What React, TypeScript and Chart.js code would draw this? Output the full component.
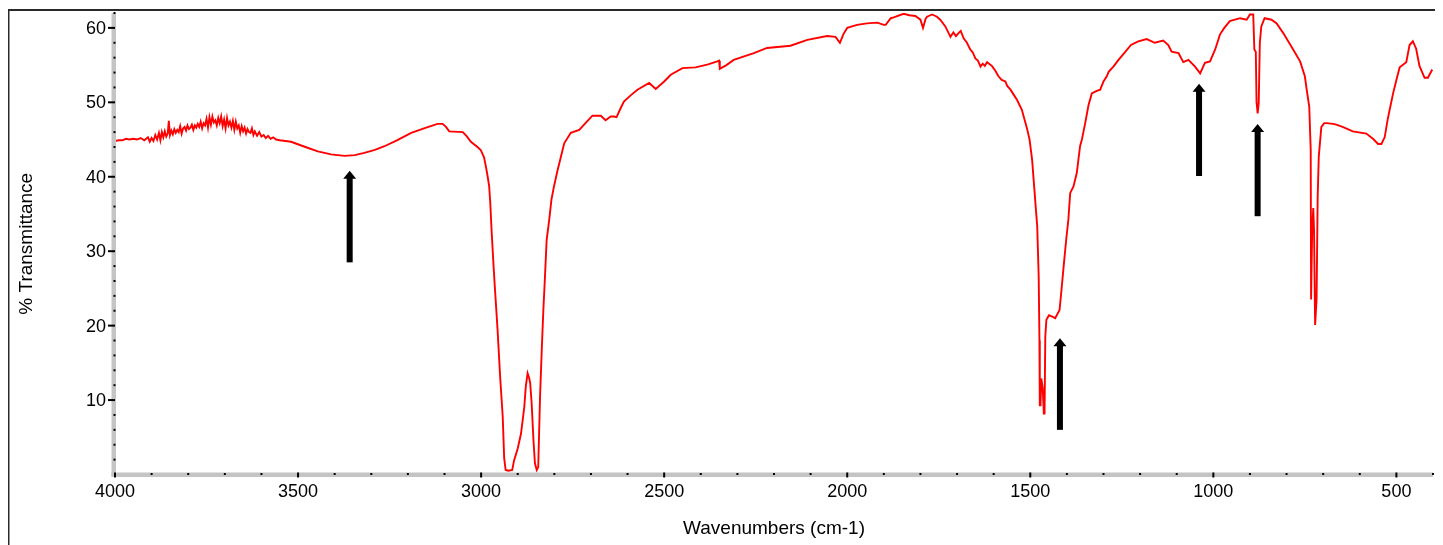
import React, { useEffect, useRef } from 'react';
import { Chart, registerables } from 'chart.js';

Chart.register(...registerables);

// ---- Data ----
const wavenumbers: number[] = [
  4000, 3990, 3980, 3970, 3960, 3950, 3940, 3930, 3920, 3910, 3905,
  3900, 3895, 3890, 3885, 3880, 3876, 3872, 3868, 3864, 3860, 3856, 3853, 3850, 3846, 3842, 3838,
  3834, 3830, 3826, 3822, 3818, 3814, 3810, 3806, 3802, 3798, 3794, 3790, 3786, 3782, 3778, 3774,
  3770, 3766, 3762, 3758, 3754, 3750, 3746, 3742, 3738, 3734, 3730, 3726, 3722, 3718, 3714, 3710,
  3706, 3702, 3698, 3694, 3690, 3686, 3682, 3678, 3674, 3670, 3666, 3662, 3658, 3654, 3650, 3646,
  3642, 3638, 3634, 3630, 3626, 3622, 3618, 3612, 3606, 3600, 3594, 3588, 3582, 3575, 3568, 3560,
  3550,
  3519, 3480, 3446, 3410, 3373, 3345, 3319, 3290, 3264, 3230, 3191, 3150, 3119, 3105, 3096, 3087,
  3050, 3040, 3028, 3010, 3001, 2992, 2987, 2982, 2978, 2975, 2971, 2966, 2962, 2955, 2948, 2941,
  2937, 2933, 2925, 2915, 2910, 2900, 2891, 2882, 2878, 2873, 2869, 2866, 2862, 2857, 2853, 2848,
  2844, 2839, 2834, 2830, 2826, 2821, 2814, 2808, 2801, 2791, 2782, 2773, 2755, 2732, 2715, 2696,
  2673, 2660, 2646, 2637, 2630, 2619, 2610, 2590, 2573, 2541, 2523, 2500, 2482, 2450, 2414, 2380,
  2355, 2350, 2348, 2330, 2310, 2255, 2219, 2155, 2109, 2055, 2032, 2020, 2010, 2000, 1973, 1946,
  1918, 1900, 1895, 1881, 1873, 1846, 1830, 1814, 1800, 1793, 1786, 1782, 1768, 1755, 1746, 1732,
  1718, 1710, 1703, 1696, 1690, 1682, 1673, 1664, 1657, 1650, 1643, 1636, 1630, 1624, 1618, 1605,
  1595, 1587, 1578, 1568, 1563, 1554, 1545, 1536, 1523, 1509, 1502, 1495, 1486, 1481, 1477, 1475,
  1474, 1472, 1470, 1466, 1463, 1461, 1459, 1456, 1449, 1440, 1432, 1420, 1414, 1409, 1402, 1396,
  1391, 1382, 1373, 1364, 1359, 1350, 1341, 1332, 1320, 1309, 1300, 1291, 1286, 1273, 1259, 1240,
  1225, 1205, 1182, 1160, 1137, 1123, 1114, 1095, 1082, 1068, 1050, 1036, 1023, 1009, 995, 982,
  970, 955, 927, 909, 900, 891, 888, 884, 882, 879, 876, 873, 869, 860, 841, 827,
  809, 782, 763, 750, 745, 738, 734, 733, 731, 730, 727, 725, 722, 718, 715, 712,
  705, 697, 691, 673, 664, 647, 619, 582, 564, 550, 541, 532, 523, 509, 500, 491,
  473, 464, 455, 446, 437, 423, 414, 402,
];

const transmittance: number[] = [
  44.8, 44.9, 44.9, 45.1, 45.0, 45.1, 45.0, 45.2, 44.9, 45.3, 44.7,
  45.2, 44.8, 45.6, 45.0, 45.9, 44.9, 46.0, 45.3, 46.1, 45.4, 45.8, 47.5, 45.6, 46.2, 45.7, 46.4,
  45.9, 46.3, 46.0, 46.8, 45.8, 46.5, 46.7, 46.2, 46.9, 46.4, 46.6, 47.0, 46.3, 46.9, 46.6, 47.1,
  46.7, 47.4, 46.5, 47.2, 46.9, 47.8, 46.6, 48.0, 47.0, 48.1, 47.3, 47.6, 46.9, 47.9, 47.2, 48.1,
  46.8, 47.7, 46.5, 47.9, 46.9, 47.4, 46.6, 47.5, 46.3, 47.4, 46.5, 46.9, 45.9, 46.8, 46.1, 46.6,
  45.8, 46.4, 46.0, 45.9, 46.5, 45.6, 46.1, 45.5, 46.0, 45.4, 45.6, 45.2, 45.5, 45.1, 45.3, 45.0,
  44.9,
  44.7, 44.0, 43.4, 43.0, 42.8, 42.9, 43.2, 43.6, 44.1, 44.9, 45.9, 46.6, 47.1, 47.1, 46.7, 46.1,
  46.0, 45.5, 44.7, 44.0, 43.6, 42.6, 41.4, 40.0, 38.7, 36.5, 32.4, 28.0, 24.8, 19.4, 13.1, 7.8,
  2.2, 0.6, 0.5, 0.6, 1.9, 3.5, 5.5, 9.1, 11.8, 13.6, 13.0, 12.3, 9.6, 4.6, 1.5, 0.6,
  1.0, 10.5, 17.2, 22.1, 26.1, 31.5, 34.2, 36.9, 38.7, 40.9, 42.7, 44.5, 45.9, 46.3, 47.2, 48.2,
  48.2, 47.6, 48.1, 48.1, 48.0, 49.2, 50.1, 51.0, 51.7, 52.6, 51.8, 52.8, 53.7, 54.6, 54.7, 55.1,
  55.5, 55.6, 54.5, 55.0, 55.7, 56.6, 57.3, 57.6, 58.4, 58.9, 58.8, 58.0, 59.2, 60.0, 60.4, 60.6,
  60.7, 60.4, 60.4, 61.3, 61.4, 61.9, 61.7, 61.6, 61.1, 60.0, 61.2, 61.5, 61.8, 61.5, 61.1, 60.2,
  58.8, 59.4, 58.9, 59.3, 59.6, 58.6, 58.0, 57.1, 56.7, 55.9, 55.6, 54.8, 55.2, 54.9, 55.4, 54.9,
  54.2, 53.5, 53.0, 52.8, 52.2, 51.7, 51.0, 50.3, 49.0, 46.5, 45.0, 42.3, 36.5, 33.3, 26.6, 18.0,
  9.3, 9.3, 12.9, 11.6, 8.2, 8.2, 18.5, 20.8, 21.4, 21.2, 21.0, 22.1, 25.2, 27.9, 31.5, 34.2,
  37.8, 38.7, 40.5, 44.1, 45.0, 47.2, 49.6, 51.2, 51.5, 51.7, 52.8, 53.5, 54.1, 54.8, 55.7, 56.8,
  57.7, 58.2, 58.5, 58.0, 58.3, 57.7, 56.8, 56.6, 55.4, 55.7, 54.8, 53.9, 55.3, 55.5, 57.1, 59.1,
  60.0, 60.9, 61.3, 61.1, 61.8, 61.8, 57.1, 56.8, 50.1, 48.5, 49.9, 58.0, 60.2, 61.3, 61.1, 60.6,
  59.3, 57.1, 55.5, 53.5, 51.7, 49.4, 43.6, 23.5, 23.5, 32.9, 35.8, 32.9, 20.1, 23.5, 37.3, 42.7,
  46.7, 47.2, 47.2, 47.1, 47.0, 46.7, 46.1, 45.8, 45.1, 44.4, 44.4, 45.3, 47.9, 51.2, 53.0, 54.7,
  55.4, 57.7, 58.2, 57.2, 54.9, 53.3, 53.3, 54.4,
];

const xTickValues: number[] = [4000, 3500, 3000, 2500, 2000, 1500, 1000, 500];
const yTickValues: number[] = [10, 20, 30, 40, 50, 60];

// Annotation arrows (wavenumber, tip %T, tail %T)
const arrowWavenumbers: number[] = [3359, 1419, 1039, 879];
const arrowTips: number[] = [40.8, 18.3, 52.5, 47.1];
const arrowTails: number[] = [28.5, 6.0, 40.1, 34.7];

const X_MIN = 400;
const X_MAX = 4000;
const Y_MIN = 0;
const Y_MAX = 62;

const FONT = '"Liberation Sans", Arial, sans-serif';

const decorPlugin = {
  id: 'irDecor',
  afterDatasetsDraw(chart: any) {
    const ctx: CanvasRenderingContext2D = chart.ctx;
    const { left, right, top, bottom } = chart.chartArea;
    const xs = chart.scales.x;
    const ys = chart.scales.y;
    ctx.save();

    // outer frame
    ctx.strokeStyle = '#2a2a2a';
    ctx.lineWidth = 2;
    ctx.beginPath();
    ctx.moveTo(0.5, chart.height);
    ctx.lineTo(0.5, 2);
    ctx.lineTo(1428.5, 2);
    ctx.lineTo(1428.5, chart.height);
    ctx.stroke();

    // axis bars
    ctx.fillStyle = '#c4c4c4';
    ctx.fillRect(left - 3.5, top, 4.5, bottom - top + 2);
    ctx.fillRect(left - 3.5, bottom - 2, right - left + 3.5, 4.5);

    ctx.fillStyle = '#000';
    // y minor dots & major ticks
    for (let v = 2; v <= Y_MAX; v += 2) {
      const y = ys.getPixelForValue(v);
      if (v % 10 === 0) {
        ctx.fillRect(left - 7, y - 1, 7, 2);
      } else {
        ctx.fillRect(left - 1.5, y - 1, 2, 2);
      }
    }
    // x minor dots & major ticks
    for (let v = X_MIN; v <= X_MAX; v += 100) {
      const x = xs.getPixelForValue(v);
      if (v % 500 === 0) {
        ctx.fillRect(x - 1, bottom - 2, 2, 5);
      } else {
        ctx.fillRect(x - 1, bottom - 1.5, 2, 2);
      }
    }

    // tick labels
    ctx.font = `18px ${FONT}`;
    ctx.fillStyle = '#000';
    ctx.textAlign = 'right';
    ctx.textBaseline = 'middle';
    yTickValues.forEach((v) => {
      ctx.fillText(String(v), left - 9, ys.getPixelForValue(v) + 1);
    });
    ctx.textAlign = 'center';
    xTickValues.forEach((v) => {
      ctx.fillText(String(v), xs.getPixelForValue(v), bottom + 18);
    });

    // axis titles
    ctx.font = `19px ${FONT}`;
    ctx.fillText('Wavenumbers (cm-1)', (left + right) / 2, bottom + 54);
    ctx.save();
    ctx.translate(19, (top + bottom) / 2);
    ctx.rotate(-Math.PI / 2);
    ctx.fillText('% Transmittance', 0, 0);
    ctx.restore();

    // arrows
    ctx.fillStyle = '#000';
    arrowWavenumbers.forEach((w, i) => {
      const x = xs.getPixelForValue(w);
      const yTip = ys.getPixelForValue(arrowTips[i]);
      const yTail = ys.getPixelForValue(arrowTails[i]);
      ctx.fillRect(x - 3, yTip + 7, 6, yTail - yTip - 7);
      ctx.beginPath();
      ctx.moveTo(x, yTip);
      ctx.lineTo(x - 6.5, yTip + 8);
      ctx.lineTo(x + 6.5, yTip + 8);
      ctx.closePath();
      ctx.fill();
    });

    ctx.restore();
  },
};

export default function App() {
  const canvasRef = useRef<HTMLCanvasElement | null>(null);

  useEffect(() => {
    document.documentElement.style.overflow = 'hidden';
    const canvas = canvasRef.current;
    if (!canvas) return;
    const points = wavenumbers.map((w, i) => ({ x: w, y: transmittance[i] }));
    const chart = new Chart(canvas, {
      type: 'line',
      data: {
        datasets: [
          {
            data: points,
            borderColor: '#ff0000',
            borderWidth: 1.9,
            pointRadius: 0,
            tension: 0,
            fill: false,
          },
        ],
      },
      options: {
        animation: false,
        responsive: false,
        maintainAspectRatio: false,
        layout: { padding: { top: 5, right: 5, left: 0, bottom: 0 } },
        plugins: { legend: { display: false }, tooltip: { enabled: false } },
        scales: {
          x: {
            type: 'linear',
            reverse: true,
            min: X_MIN,
            max: X_MAX,
            grid: { display: false },
            border: { display: false },
            ticks: { display: false },
            afterFit: (s: any) => {
              s.height = 70.5;
            },
          },
          y: {
            type: 'linear',
            min: Y_MIN,
            max: Y_MAX,
            grid: { display: false },
            border: { display: false },
            ticks: { display: false },
            afterFit: (s: any) => {
              s.width = 107;
            },
          },
        },
      },
      plugins: [decorPlugin],
    } as any);
    return () => chart.destroy();
  }, []);

  return (
    <div style={{ width: 1430, height: 537 }}>
      <canvas ref={canvasRef} width={1430} height={537} style={{ display: 'block' }} />
    </div>
  );
}
